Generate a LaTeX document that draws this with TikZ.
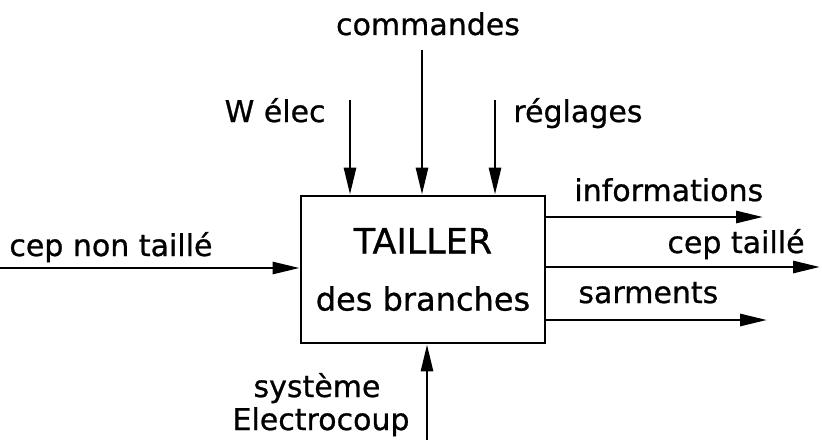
\documentclass[tikz,border=0pt]{standalone}
\usepackage{fontspec}
\setmainfont{DejaVu Sans}[FakeBold=0.8]
\usetikzlibrary{arrows.meta,positioning}

\begin{document}
\begin{tikzpicture}[x=0.5pt,y=-0.5pt,>={Triangle[length=13.5pt,width=6pt]},line width=1.4pt,
    lbl/.style={font=\fontsize{15}{18}\selectfont,inner sep=0pt}]

    \useasboundingbox (0,0) rectangle (822,444);

    % la fonction
    \node[draw,minimum width=122pt,minimum height=73.5pt,align=center,
          font=\fontsize{16}{28.5}\selectfont] (tailler) at (423,269.5)
          {{\fontsize{17.5}{28.5}\selectfont TAILLER}\\des branches};

    % entrees du haut
    \coordinate (welec) at (350,100);
    \coordinate (cmd)   at (422,50);
    \coordinate (regl)  at (495,100);
    \draw[->] (welec) -- (welec |- tailler.north);
    \draw[->] (cmd)   -- (cmd |- tailler.north);
    \draw[->] (regl)  -- (regl |- tailler.north);

    \node[lbl,anchor=base]      (lcmd)   at (428,35)  {commandes};
    \node[lbl,anchor=base east] (lwelec) at (327,122) {W élec};
    \node[lbl,anchor=base west] (lregl)  at (512,122) {réglages};

    % matiere d'oeuvre entrante
    \coordinate (cepin) at (0,268);
    \draw[->] (cepin) -- (cepin -| tailler.west);
    \node[lbl,anchor=base west] (lcepin) at (8,256) {cep non taillé};

    % sorties
    \coordinate (info)   at (763,217);
    \coordinate (cepout) at (820,267);
    \coordinate (sarm)   at (767,320);
    \draw[->] (info -| tailler.east)   -- (info);
    \draw[->] (cepout -| tailler.east) -- (cepout);
    \draw[->] (sarm -| tailler.east)   -- (sarm);

    \node[lbl,anchor=base west] (linfo)   at (573,201) {informations};
    \node[lbl,anchor=base east] (lcepout) at (806,253) {cep taillé};
    \node[lbl,anchor=base west] (lsarm)   at (577,303) {sarments};

    % support
    \coordinate (syst) at (427,440);
    \draw[->] (syst) -- (syst |- tailler.south);
    \node[lbl,anchor=base] (lsyst)  at (317,397) {système};
    \node[lbl,anchor=base] (lelec)  at (321,430) {Electrocoup};

\end{tikzpicture}
\end{document}
